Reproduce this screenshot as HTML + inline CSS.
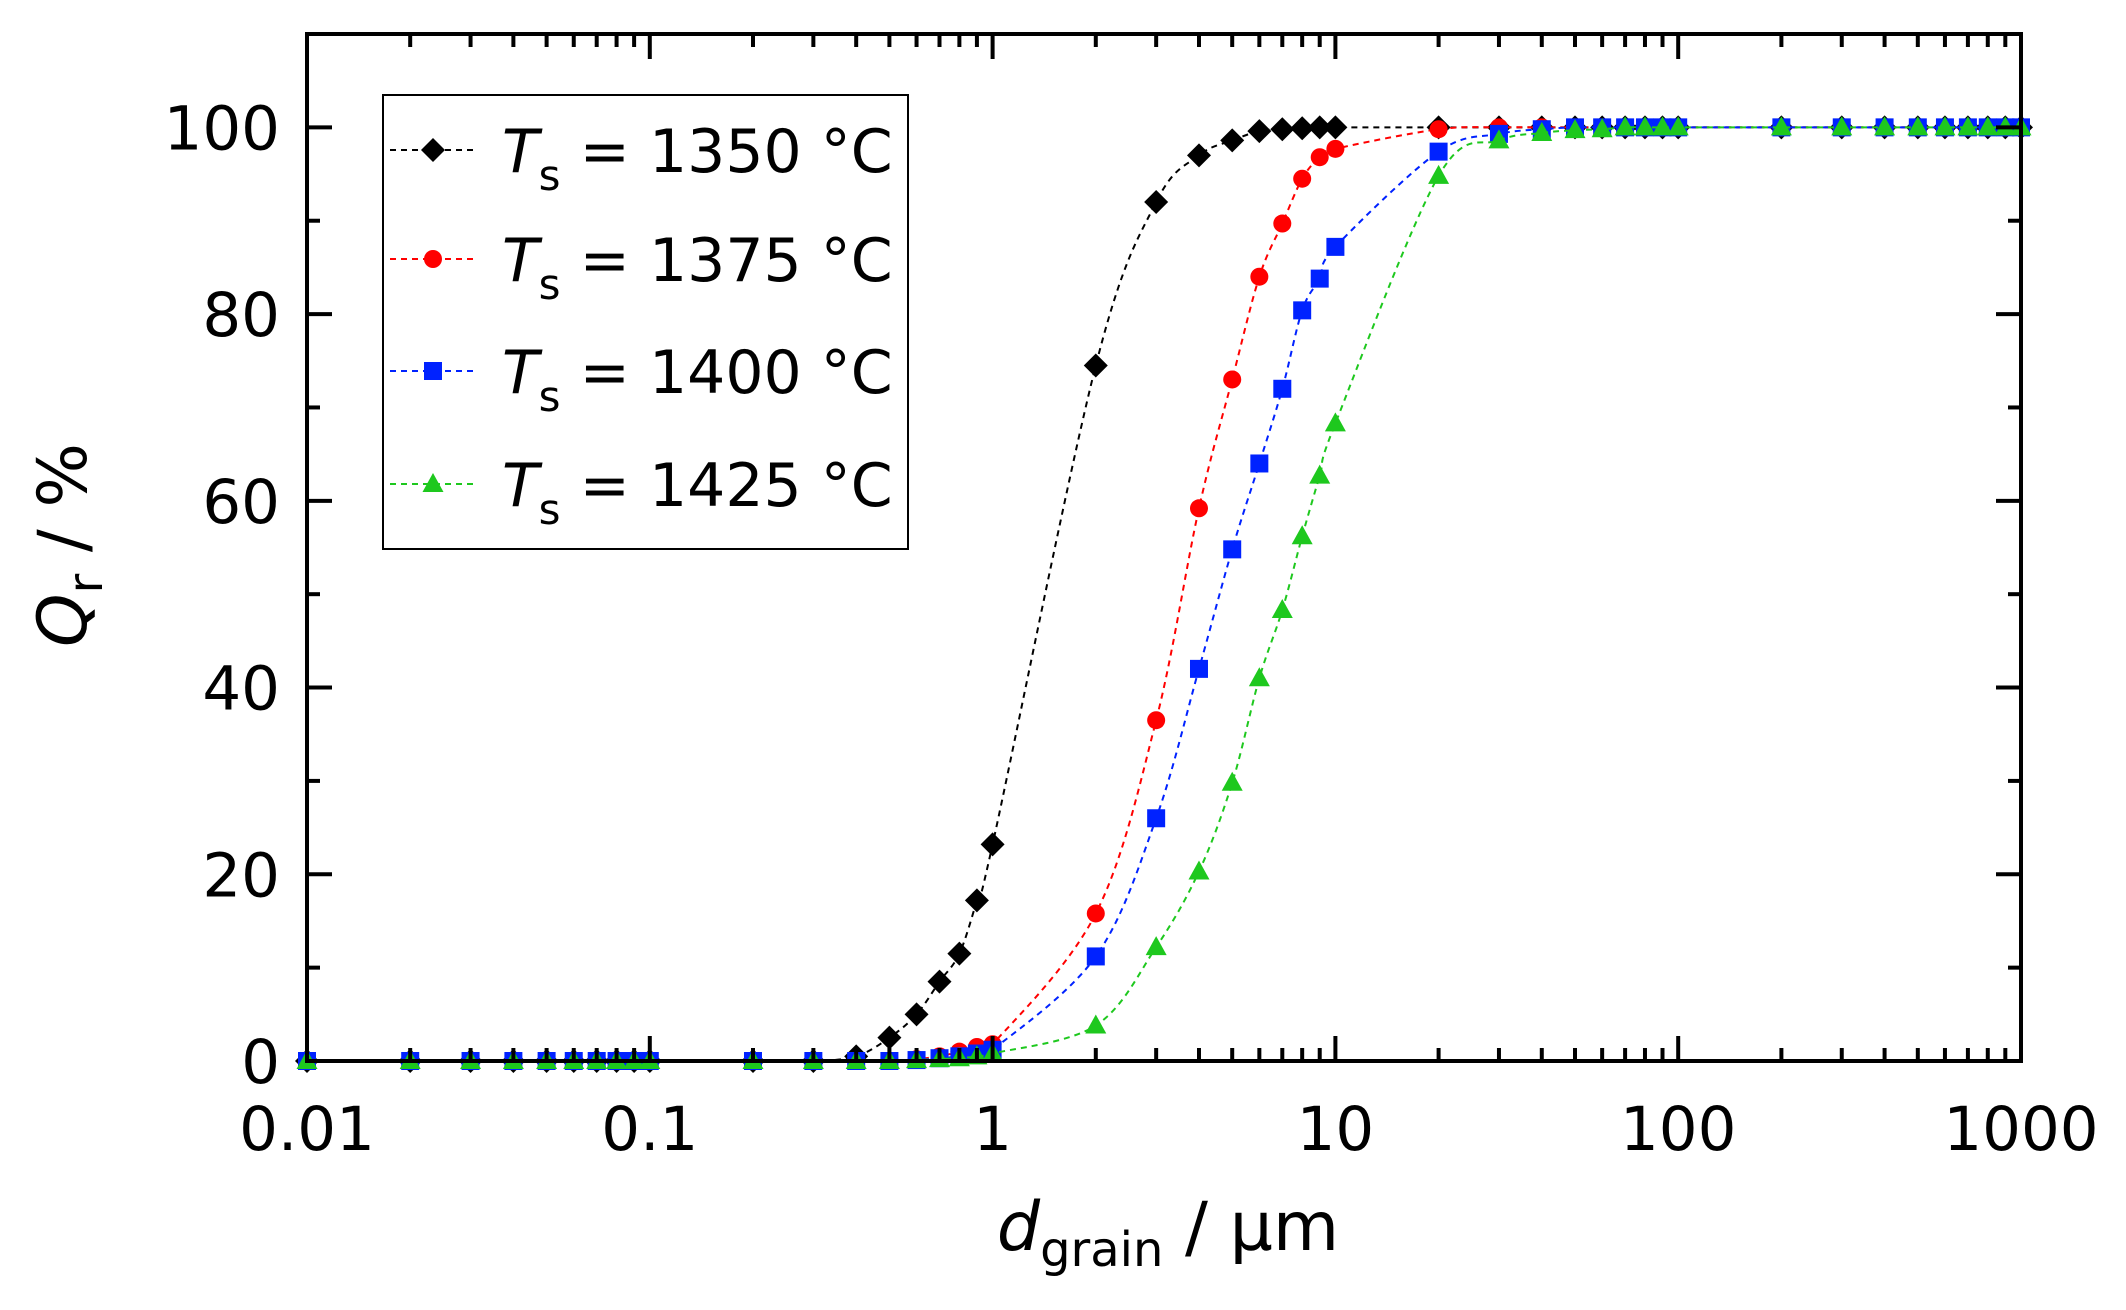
<!DOCTYPE html>
<html><head><meta charset="utf-8"><style>
body{margin:0;background:#fff}
svg text{font-family:"DejaVu Sans","Liberation Sans",sans-serif}
</style></head><body>
<svg id="chart" width="2126" height="1305" viewBox="0 0 2126 1305" xmlns="http://www.w3.org/2000/svg">
<g id="series"></g>
<g id="axes"></g>
<g id="legend"></g>
</svg>
<script>
const xValues=[0.01,0.02,0.03,0.04,0.05,0.06,0.07,0.08,0.09,0.1,0.2,0.3,0.4,0.5,0.6,0.7,0.8,0.9,1,2,3,4,5,6,7,8,9,10,20,30,40,50,60,70,80,90,100,200,300,400,500,600,700,800,900,1000];
const s1350=[0,0,0,0,0,0,0,0,0,0,0,0,0.5,2.5,5,8.5,11.5,17.2,23.2,74.5,92,97,98.6,99.6,99.8,99.9,100,100,100,100,100,100,100,100,100,100,100,100,100,100,100,100,100,100,100,100];
const s1375=[0,0,0,0,0,0,0,0,0,0,0,0,0,0,0.2,0.5,1,1.5,1.8,15.8,36.5,59.2,73,84,89.7,94.5,96.8,97.7,99.8,100,100,100,100,100,100,100,100,100,100,100,100,100,100,100,100,100];
const s1400=[0,0,0,0,0,0,0,0,0,0,0,0,0,0,0.1,0.3,0.5,0.8,1.2,11.2,26,42,54.8,64,72,80.4,83.8,87.2,97.4,99.3,99.8,100,100,100,100,100,100,100,100,100,100,100,100,100,100,100];
const s1425=[0,0,0,0,0,0,0,0,0,0,0,0,0,0,0.1,0.2,0.3,0.5,0.8,3.8,12.2,20.3,29.8,41,48.3,56.2,62.7,68.3,94.8,98.6,99.4,99.7,99.8,100,100,100,100,100,100,100,100,100,100,100,100,100];
const seriesNames=["1350","1375","1400","1425"];
const xTickLabels=["0.01","0.1","1","10","100","1000"];
const xTickValues=[0.01,0.1,1,10,100,1000];
const yTickValues=[0,20,40,60,80,100];
const NS="http://www.w3.org/2000/svg";
const L=307,R=2021,T=34,B=1061;
const xmin=-2,xmax=3,ymin=0,ymax=110;
function xs(v){return L+(Math.log10(v)-xmin)/(xmax-xmin)*(R-L);}
function ys(v){return B-(v-ymin)/(ymax-ymin)*(B-T);}
function mk(tag,attrs,parent){const e=document.createElementNS(NS,tag);for(const k in attrs)e.setAttribute(k,attrs[k]);parent.appendChild(e);return e;}
const colors=["#000000","#ff0000","#0022ff","#1ec81e"];
const shapes=["diamond","circle","square","triangle"];
const allSeries=[s1350,s1375,s1400,s1425];
function marker(shape,cx,cy,c,parent){
  let e;
  if(shape==="diamond")e=mk("polygon",{points:`${cx},${cy-12} ${cx+12},${cy} ${cx},${cy+12} ${cx-12},${cy}`,fill:c},parent);
  else if(shape==="circle")e=mk("circle",{cx:cx,cy:cy,r:9,fill:c},parent);
  else if(shape==="square")e=mk("rect",{x:cx-9,y:cy-9,width:18,height:18,fill:c},parent);
  else e=mk("polygon",{points:`${cx},${cy-11} ${cx+10.5},${cy+8} ${cx-10.5},${cy+8}`,fill:c},parent);
  return e;
}
const sg=document.getElementById("series");
allSeries.forEach((s,i)=>{
  const pts=xValues.map((x,j)=>[xs(x),ys(s[j])]);
  let d=`M${pts[0][0]},${pts[0][1]}`;
  for(let j=0;j<pts.length-1;j++){
    const p0=pts[Math.max(0,j-1)],p1=pts[j],p2=pts[j+1],p3=pts[Math.min(pts.length-1,j+2)];
    const c1=[p1[0]+(p2[0]-p0[0])/6,p1[1]+(p2[1]-p0[1])/6];
    const c2=[p2[0]-(p3[0]-p1[0])/6,p2[1]-(p3[1]-p1[1])/6];
    d+=` C${c1[0]},${c1[1]} ${c2[0]},${c2[1]} ${p2[0]},${p2[1]}`;
  }
  const path=mk("path",{d:d,fill:"none",stroke:colors[i],"stroke-width":2,"stroke-dasharray":"6,5"},sg);
  
  
  pts.forEach((p,j)=>{
    const m=marker(shapes[i],p[0],p[1],colors[i],sg);
    
    
  });
});
const ag=document.getElementById("axes");
const frame=mk("rect",{x:L,y:T,width:R-L,height:B-T,fill:"none",stroke:"#000","stroke-width":4},ag);


for(let dec=-2;dec<3;dec++){
  for(let k=1;k<10;k++){
    const v=k*Math.pow(10,dec);const x=xs(v);const len=k===1?25:13;
    mk("line",{x1:x,y1:B,x2:x,y2:B-len,stroke:"#000","stroke-width":4},ag);
    mk("line",{x1:x,y1:T,x2:x,y2:T+len,stroke:"#000","stroke-width":4},ag);
  }
}
xTickValues.forEach((v,i)=>{
  const t=mk("text",{x:xs(v),y:1150,"font-size":61,"text-anchor":"middle"},ag);t.textContent=xTickLabels[i];
  
  
});
for(let v=0;v<=110;v+=10){
  const y=ys(v);const len=v%20===0?25:13;
  mk("line",{x1:L,y1:y,x2:L+len,y2:y,stroke:"#000","stroke-width":4},ag);
  mk("line",{x1:R,y1:y,x2:R-len,y2:y,stroke:"#000","stroke-width":4},ag);
}
yTickValues.forEach(v=>{
  const t=mk("text",{x:280,y:ys(v)+22,"font-size":61,"text-anchor":"end"},ag);t.textContent=String(v);
  
  
});
const xt=mk("text",{x:1168,y:1250,"font-size":68,"text-anchor":"middle"},ag);
xt.innerHTML='<tspan font-style="italic">d</tspan><tspan font-size="48" dy="16">grain</tspan><tspan dy="-16"> / µm</tspan>';


const yt=mk("text",{x:0,y:0,"font-size":68,"text-anchor":"middle",transform:"translate(86,545) rotate(-90)"},ag);
yt.innerHTML='<tspan font-style="italic">Q</tspan><tspan font-size="48" dy="16">r</tspan><tspan dy="-16"> / %</tspan>';


const lg=document.getElementById("legend");
const lb=mk("rect",{x:383,y:95,width:525,height:454,fill:"#fff",stroke:"#000","stroke-width":2},lg);


const rowY=[150,259,371,484];
seriesNames.forEach((n,i)=>{
  const g=mk("g",{},lg);
  
  
  mk("line",{x1:390,y1:rowY[i],x2:474,y2:rowY[i],stroke:colors[i],"stroke-width":2,"stroke-dasharray":"6,5"},g);
  marker(shapes[i],433,rowY[i],colors[i],g);
  const t=mk("text",{x:502,y:rowY[i]+22,"font-size":60},g);
  t.innerHTML='<tspan font-style="italic">T</tspan><tspan font-size="42" dy="18">s</tspan><tspan dy="-18"> = '+n+' °C</tspan>';
});
</script>
</body></html>
